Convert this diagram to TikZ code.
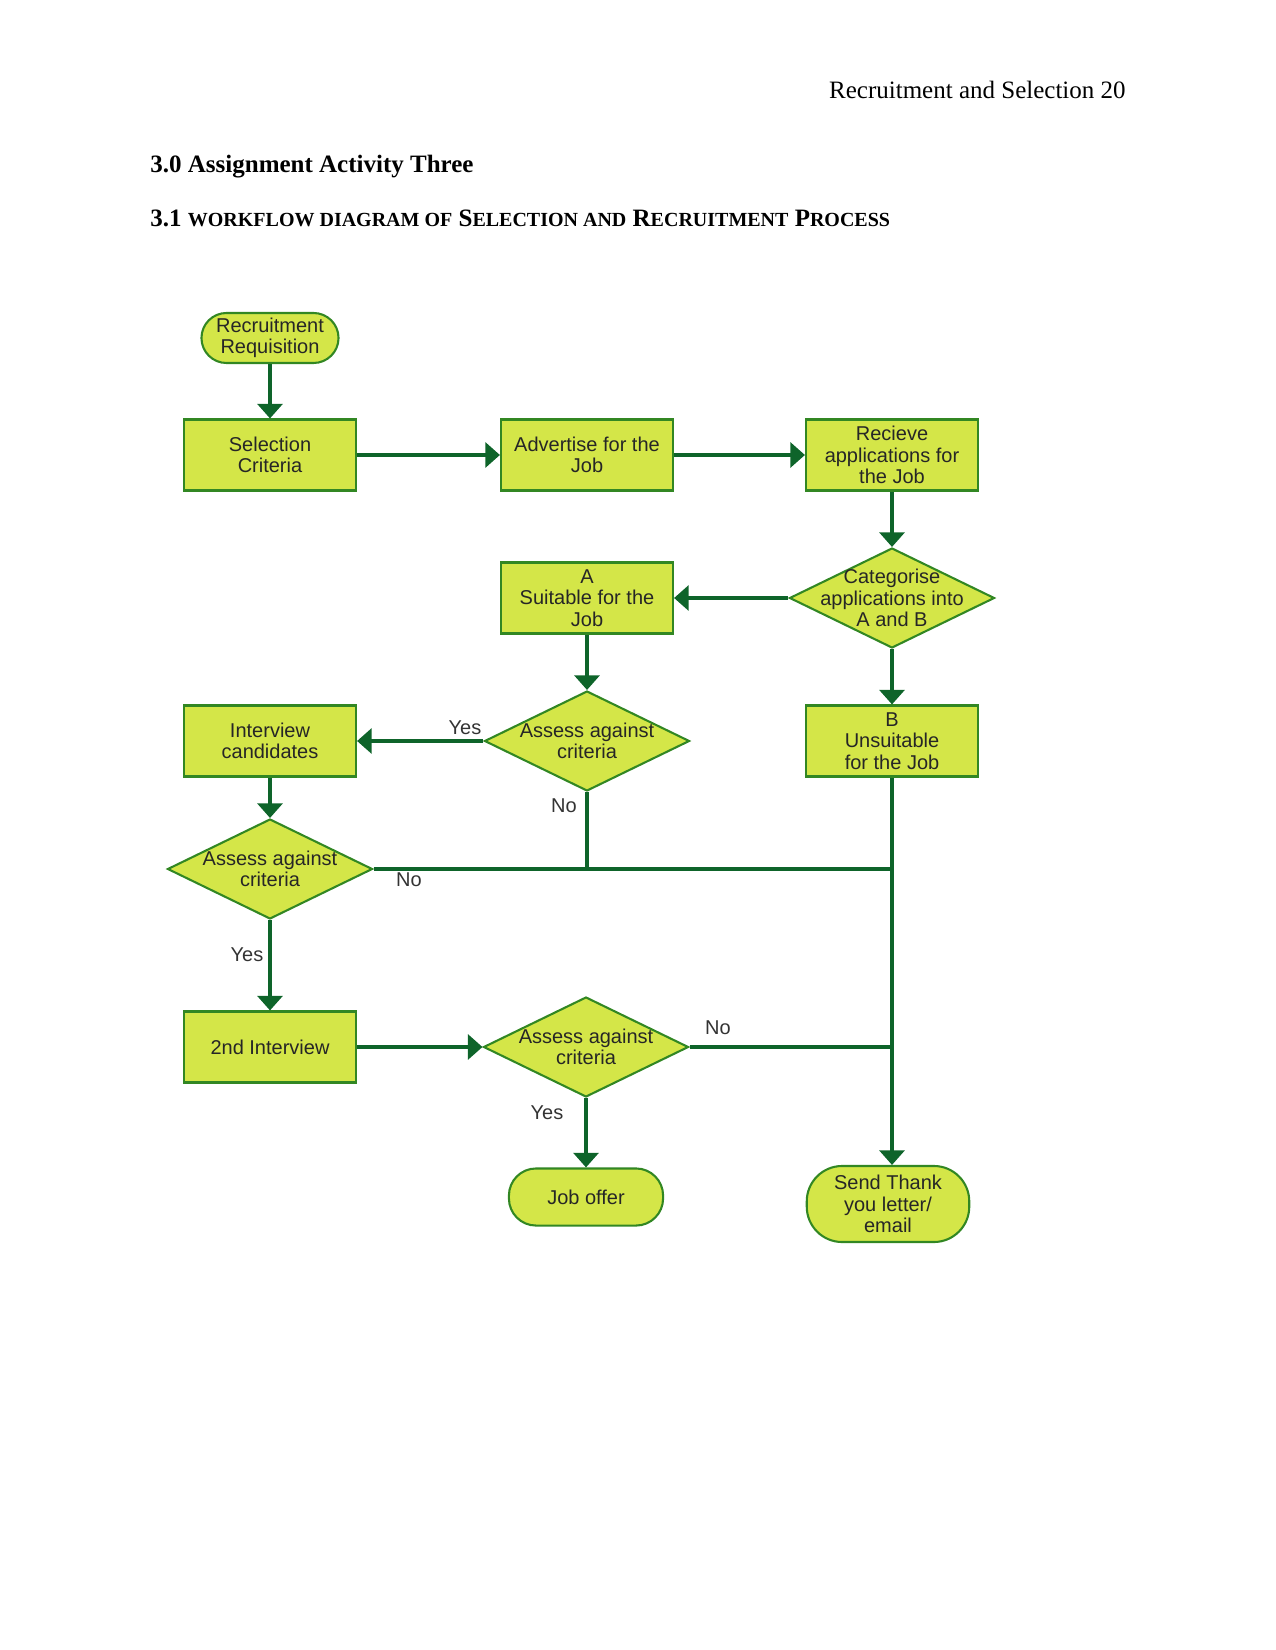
\documentclass[tikz,border=0pt]{standalone}
\usepackage{fontspec}
\setmainfont{Liberation Serif}
\newfontfamily\arialf{Liberation Sans}
\usetikzlibrary{shapes.geometric,arrows.meta}
\definecolor{boxfill}{RGB}{212,230,72}
\definecolor{boxline}{RGB}{50,135,35}
\definecolor{conn}{RGB}{14,100,42}
\newcommand{\smcap}[1]{{\fontsize{9.6}{11}\selectfont #1}}
\begin{document}
\begin{tikzpicture}[x=0.48pt,y=-0.48pt,
  every node/.style={inner sep=0pt},
  flowtext/.style={font=\arialf\fontsize{9.6}{10.3}\selectfont, align=center, text=black!85},
  procbox/.style={flowtext, draw=boxline, fill=boxfill, line width=1pt, minimum width=82.6pt, minimum height=34.1pt},
  decbox/.style={diamond, draw=boxline, fill=boxfill, line width=1pt, minimum width=98.4pt, minimum height=48pt},
  termbox/.style={flowtext, draw=boxline, fill=boxfill, line width=1pt, rounded corners=#1},
  connline/.style={draw=conn, line width=1.5pt},
  arrline/.style={connline, -{Triangle[width=12pt,length=7pt]}},
  lbl/.style={font=\arialf\fontsize{9.6}{10.3}\selectfont, text=black!80},
  pagetext/.style={font=\fontsize{12}{14}\selectfont}
]
\useasboundingbox (0,0) rectangle (1275,1650);

% page texts
\node[pagetext, anchor=east] (hdr) at (1126,90) {Recruitment and Selection 20};
\node[pagetext, anchor=west, font=\bfseries\fontsize{12}{14}\selectfont] (h30) at (150,167) {3.0 Assignment Activity Three};
\node[pagetext, anchor=west, font=\bfseries\fontsize{12}{14}\selectfont] (h31) at (150,218)
  {3.1 \smcap{WORKFLOW DIAGRAM OF} S\smcap{ELECTION AND} R\smcap{ECRUITMENT} P\smcap{ROCESS}};

% nodes
\node[termbox=12pt, minimum width=65.8pt, minimum height=24pt] (req) at (270,338) {Recruitment\\Requisition};
\node[procbox] (sel) at (270,455) {Selection\\Criteria};
\node[procbox] (adv) at (587,455) {Advertise for the\\Job};
\node[procbox] (rec) at (892,455) {Recieve\\applications for\\the Job};
\node[decbox] (cat) at (892,598) {};
\node[flowtext] (catt) at (cat) {Categorise\\applications into\\A and B};
\node[procbox] (sa) at (587,598) {A\\Suitable for the\\Job};
\node[decbox] (d1) at (587,741) {};
\node[flowtext] (d1t) at (d1) {Assess against\\criteria};
\node[procbox] (int) at (270,741) {Interview\\candidates};
\node[procbox] (ub) at (892,741) {B\\Unsuitable\\for the Job};
\node[decbox] (d2) at (270,869) {};
\node[flowtext] (d2t) at (d2) {Assess against\\criteria};
\node[procbox] (sec) at (270,1047) {2nd Interview};
\node[decbox] (d3) at (586,1047) {};
\node[flowtext] (d3t) at (d3) {Assess against\\criteria};
\node[termbox=13pt, minimum width=74pt, minimum height=27.4pt] (job) at (586,1197) {Job offer};
\node[termbox=17pt, minimum width=78pt, minimum height=36.5pt] (thx) at (888,1204) {Send Thank\\you letter/\\email};

\coordinate (j1) at (892,869);
\coordinate (j2) at (892,1047);

% connectors
\draw[arrline] (req) -- (sel);
\draw[arrline] (sel) -- (adv);
\draw[arrline] (adv) -- (rec);
\draw[arrline] (rec) -- (cat);
\draw[arrline] (cat) -- (sa);
\draw[arrline] (cat) -- (ub);
\draw[arrline] (sa) -- (d1);
\draw[arrline] (d1) -- (int);
\draw[arrline] (int) -- (d2);
\draw[arrline] (d2) -- (sec);
\draw[arrline] (sec) -- (d3);
\draw[arrline] (d3) -- (job);
\draw[connline] (d1.south) -- (d1.south |- j1);
\draw[connline] (d2.east) -- (j1);
\draw[connline] (d3.east) -- (j2);
\draw[arrline] (ub.south) -- (ub.south |- thx.north);

% labels
\node[lbl] (y1) at (465,728) {Yes};
\node[lbl] (n1) at (564,806) {No};
\node[lbl] (n2) at (409,880) {No};
\node[lbl] (y2) at (247,955) {Yes};
\node[lbl] (n3) at (718,1028) {No};
\node[lbl] (y3) at (547,1113) {Yes};
\end{tikzpicture}
\end{document}
